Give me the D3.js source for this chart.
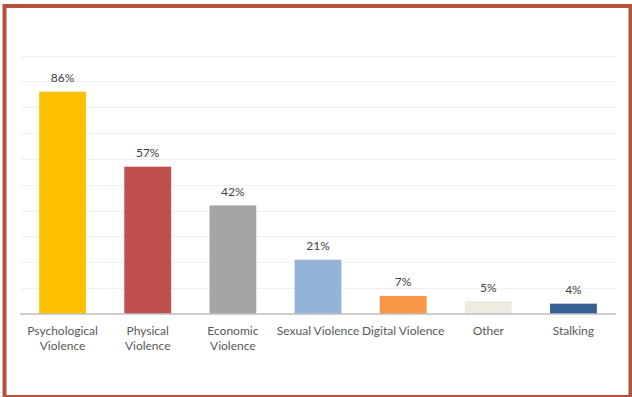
<!DOCTYPE html>
<html><head><meta charset="utf-8">
<script src="https://cdn.jsdelivr.net/npm/d3@7"></script>
<style>html,body{margin:0;padding:0;background:#fff;}svg{display:block;}</style>
</head><body>
<svg id="chart" width="632" height="397"></svg>
<script>
const categories = ["Psychological\nViolence", "Physical\nViolence", "Economic\nViolence", "Sexual Violence", "Digital Violence", "Other", "Stalking"];
const values = [86, 57, 42, 21, 7, 5, 4];
const colors = ["#FFC000", "#C0504D", "#A5A5A5", "#95B3D7", "#F79646", "#EEECE1", "#366092"];
const yTicks = [0, 10, 20, 30, 40, 50, 60, 70, 80, 90, 100];

const svg = d3.select("#chart");
const W = 632, H = 397;
const font = "Lato, 'Open Sans', sans-serif";

svg.append("rect").attr("x", 0).attr("y", 0).attr("width", W).attr("height", H).attr("fill", "#fff");

const x = d3.scaleBand().domain(categories).range([20, 616]).paddingInner(0.45).paddingOuter(0.225);
const y = d3.scaleLinear().domain([0, 100]).range([314, 55.5]);

// gridlines
svg.append("g").selectAll("line").data(yTicks.slice(1)).join("line")
  .attr("x1", 20).attr("x2", 616)
  .attr("y1", d => Math.round(y(d)) + 0.5).attr("y2", d => Math.round(y(d)) + 0.5)
  .attr("stroke", "#F0F0F0").attr("stroke-width", 1);

// bars
svg.append("g").selectAll("rect").data(values).join("rect")
  .attr("x", (d, i) => x(categories[i]))
  .attr("width", x.bandwidth())
  .attr("y", d => y(d))
  .attr("height", d => y(0) - y(d))
  .attr("fill", (d, i) => colors[i]);

// value labels
svg.append("g").selectAll("text").data(values).join("text")
  .attr("x", (d, i) => x(categories[i]) + x.bandwidth() / 2)
  .attr("y", d => y(d) - 9.5)
  .attr("text-anchor", "middle")
  .attr("font-family", font).attr("font-size", 12).attr("fill", "#404040")
  .text(d => d + "%");

// x axis
const xAxis = d3.axisBottom(x).tickSize(0).tickFormat("");
const gx = svg.append("g").attr("transform", "translate(0,314)").call(xAxis);
gx.select(".domain").attr("stroke", "#BFBFBF").attr("stroke-width", 1.5).attr("d", "M20,0H616");

const labels = svg.append("g").selectAll("text").data(categories).join("text")
  .attr("text-anchor", "middle")
  .attr("font-family", font).attr("font-size", 12).attr("fill", "#595959");
labels.each(function(d) {
  const t = d3.select(this);
  const cx = x(d) + x.bandwidth() / 2;
  d.split("\n").forEach((line, k) => {
    t.append("tspan").attr("x", cx).attr("y", 334.5 + k * 15).text(line);
  });
});

// outer border
svg.append("rect").attr("x", 4.5).attr("y", 6).attr("width", 626).attr("height", 391)
  .attr("fill", "none").attr("stroke", "#B7503A").attr("stroke-width", 4);
</script>
</body></html>
